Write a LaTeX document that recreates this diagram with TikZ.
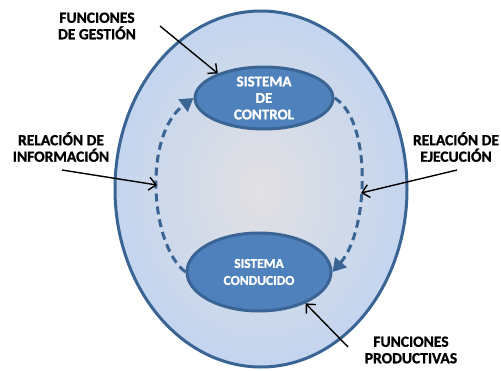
\documentclass[tikz,border=0pt]{standalone}
\usepackage{fontspec}
\setmainfont{Carlito}[BoldFont={Carlito Bold}, BoldFeatures={FakeBold=1.2}]
\usetikzlibrary{shapes.geometric,arrows.meta}
\definecolor{edgeblue}{HTML}{3A6494}
\definecolor{fillblue}{HTML}{4F81BD}
\definecolor{outerfill}{HTML}{C4D5EF}
\definecolor{innerfill}{HTML}{E2E0E2}
\tikzset{
  lbl/.style={font=\bfseries\fontsize{15.5}{16.5}\selectfont, align=center, text=black, inner sep=0pt},
  sys/.style={ellipse, draw=edgeblue, fill=fillblue, line width=3pt, text=white, align=center, inner sep=0pt},
  rel/.style={draw=edgeblue, line width=3pt, dash pattern=on 8pt off 5pt, -{Triangle[length=13pt,width=15pt]}},
  blk/.style={draw=black, line width=1.4pt, -{Straight Barb[length=7pt,width=13pt]}}
}
\begin{document}
\begin{tikzpicture}[x=1pt,y=-1pt]
\useasboundingbox (0,0) rectangle (501,370);
\fill[white] (0,0) rectangle (501,370);
\node[ellipse, draw=edgeblue, line width=3pt, inner color=innerfill, outer color=outerfill, minimum width=292pt, minimum height=356pt] (env) at (261,189) {};
\node[sys, minimum width=138pt, minimum height=62pt, font=\bfseries\fontsize{15}{16.5}\selectfont] (ctrl) at (264,98) {SISTEMA\\DE\\CONTROL};
\node[sys, minimum width=144pt, minimum height=78pt, font=\bfseries\fontsize{13.5}{17}\selectfont] (cond) at (259,272) {SISTEMA\\CONDUCIDO};
\draw[rel] (cond.west) .. controls (150,245) and (143,135) .. (ctrl.west);
\draw[rel] (ctrl.east) .. controls (372,120) and (369,230) .. (cond.east);
\node[lbl] (fg) at (97,26) {FUNCIONES\\DE GESTIÓN};
\node[lbl] (ri) at (61,147) {RELACIÓN DE\\INFORMACIÓN};
\node[lbl] (re) at (456,147) {RELACIÓN DE\\EJECUCIÓN};
\node[lbl] (fp) at (411,350) {FUNCIONES\\PRODUCTIVAS};
\coordinate (fgs) at (160,26);
\coordinate (ris) at (62,170);
\coordinate (rit) at (157,185);
\coordinate (res) at (457,170);
\coordinate (ret) at (361,193);
\coordinate (fps) at (348,347);
\draw[blk] (fgs) -- (ctrl.152);
\draw[blk] (ris) -- (rit);
\draw[blk] (res) -- (ret);
\draw[blk] (fps) -- (cond.-34);
\end{tikzpicture}
\end{document}
